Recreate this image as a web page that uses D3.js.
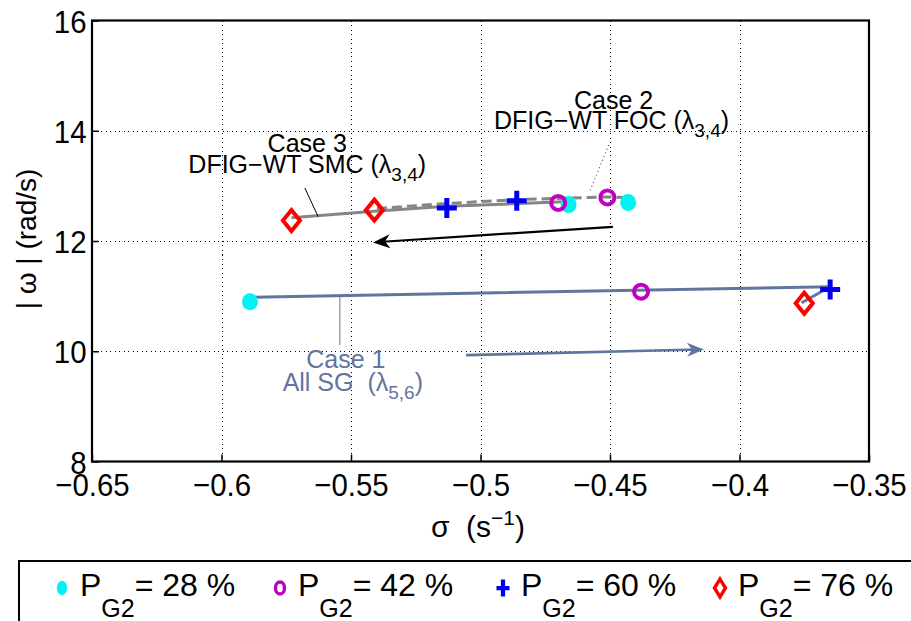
<!DOCTYPE html>
<html>
<head>
<meta charset="utf-8">
<script src="https://cdn.jsdelivr.net/npm/d3@7"></script>
<style>
  body { margin: 0; background: #fff; }
  text { font-family: "Liberation Sans", Arial, Helvetica, sans-serif; white-space: pre; }
</style>
</head>
<body>
<svg id="chart" width="911" height="621"></svg>
<script>
// ---- axis ticks ----
const xTicks = [-0.65, -0.6, -0.55, -0.5, -0.45, -0.4, -0.35];
const yTicks = [8, 10, 12, 14, 16];
const xTickLabels = ["\u22120.65", "\u22120.6", "\u22120.55", "\u22120.5", "\u22120.45", "\u22120.4", "\u22120.35"];

// ---- eigenvalue markers (sigma, |omega|) per P_G2 level ----
// order in each array: Case 1 (all SG), Case 3 (SMC), Case 2 (FOC)
const pg28 = [[-0.589, 10.90], [-0.466, 12.66], [-0.443, 12.70]];
const pg42 = [[-0.438, 11.08], [-0.470, 12.69], [-0.451, 12.79]];
const pg60 = [[-0.365, 11.12], [-0.513, 12.60], [-0.486, 12.73]];
const pg76 = [[-0.375, 10.87], [-0.573, 12.37], [-0.541, 12.56]];

// ---- eigenvalue loci ----
const case1Locus = [[-0.589, 10.98], [-0.365, 11.17], [-0.376, 10.88]];
const case3Locus = [[-0.573, 12.42], [-0.541, 12.54], [-0.513, 12.63], [-0.468, 12.71]];
const case2Locus = [[-0.540, 12.59], [-0.513, 12.68], [-0.486, 12.75], [-0.451, 12.80], [-0.443, 12.79]];

// ---- trend arrows (from, to) ----
const arrowCase23 = [[-0.4489, 12.258], [-0.5415, 11.975]];
const arrowCase1 = [[-0.5056, 9.929], [-0.4137, 10.033]];

const legendItems = [
  { label: "28", symbol: "dot" },
  { label: "42", symbol: "ring" },
  { label: "60", symbol: "plus" },
  { label: "76", symbol: "diamond" }
];

const W = 911, H = 621;
const margin = { left: 92, right: 42, top: 20.5, bottom: 159.5 };
const svg = d3.select("#chart");

const x = d3.scaleLinear().domain([-0.65, -0.35]).range([margin.left, W - margin.right]);
const y = d3.scaleLinear().domain([8, 16]).range([H - margin.bottom, margin.top]);

const CASE1 = "#62759e";
const GRAY = "#858585";

// grid
const grid = svg.append("g").attr("stroke", "#000").attr("stroke-width", 1)
  .attr("stroke-dasharray", "1,3.5").attr("shape-rendering", "crispEdges");
xTicks.slice(1, -1).forEach(v => grid.append("line")
  .attr("x1", Math.round(x(v)) + 0.5).attr("x2", Math.round(x(v)) + 0.5)
  .attr("y1", y(16)).attr("y2", y(8)));
yTicks.slice(1, -1).forEach(v => grid.append("line")
  .attr("x1", x(-0.65)).attr("x2", x(-0.35))
  .attr("y1", Math.round(y(v)) + 0.5).attr("y2", Math.round(y(v)) + 0.5));

// axes
const xAxis = d3.axisBottom(x).tickValues(xTicks).tickSize(-7).tickPadding(12)
  .tickFormat((d, i) => xTickLabels[i]);
const yAxis = d3.axisLeft(y).tickValues(yTicks).tickSize(-7).tickPadding(6)
  .tickFormat(d3.format("d"));

const gx = svg.append("g").attr("transform", `translate(0,${y(8)})`).call(xAxis);
const gy = svg.append("g").attr("transform", `translate(${x(-0.65)},0)`).call(yAxis);
[gx, gy].forEach(g => {
  g.select(".domain").remove();
  g.selectAll(".tick line").attr("stroke", "#000").attr("stroke-width", 1.5);
  g.selectAll(".tick text").attr("fill", "#000").style("font-size", "32px")
    .style("font-family", "'Liberation Sans', Arial, sans-serif")
    .attr("transform", "scale(0.92,1)");
});
gy.selectAll(".tick text").attr("dy", "0.36em");

// frame
svg.append("rect")
  .attr("x", x(-0.65)).attr("y", y(16))
  .attr("width", x(-0.35) - x(-0.65)).attr("height", y(8) - y(16))
  .attr("fill", "none").attr("stroke", "#000").attr("stroke-width", 2.2);

// axis titles
const xt = svg.append("text").attr("x", 478).attr("y", 537).attr("text-anchor", "middle")
  .style("font-size", "30px").attr("fill", "#000");
xt.append("tspan").text("\u03c3  (s");
xt.append("tspan").attr("dy", -12).style("font-size", "21px").text("\u22121");
xt.append("tspan").attr("dy", 12).text(")");

svg.append("text").attr("transform", "translate(36,239) rotate(-90)")
  .attr("text-anchor", "middle").style("font-size", "28px").attr("fill", "#000")
  .text("| \u03c9 | (rad/s)");

// loci
const line = d3.line().x(d => x(d[0])).y(d => y(d[1]));
svg.append("path").datum(case1Locus).attr("d", line)
  .attr("fill", "none").attr("stroke", CASE1).attr("stroke-width", 3);
svg.append("path").datum(case3Locus).attr("d", line)
  .attr("fill", "none").attr("stroke", GRAY).attr("stroke-width", 3);
svg.append("path").datum(case2Locus).attr("d", line)
  .attr("fill", "none").attr("stroke", GRAY).attr("stroke-width", 3)
  .attr("stroke-dasharray", "10,5");

// marker symbols; sx/sy scale width and height separately
function drawSymbol(g, type, cx, cy, sx, sy, sw) {
  sx = sx || 1; sy = sy || sx; sw = sw || 1;
  if (type === "dot") {
    g.append("ellipse").attr("cx", cx).attr("cy", cy).attr("rx", 8 * sx).attr("ry", 8.5 * sy)
      .attr("fill", "#00f2f2");
  } else if (type === "ring") {
    g.append("ellipse").attr("cx", cx).attr("cy", cy).attr("rx", 7 * sx).attr("ry", 7 * sy)
      .attr("fill", "none").attr("stroke", "#c000c0").attr("stroke-width", 4 * sw);
  } else if (type === "plus") {
    const a = 10 * sx, b = 10 * sy;
    g.append("path").attr("d", `M${cx - a},${cy}H${cx + a}M${cx},${cy - b}V${cy + b}`)
      .attr("stroke", "#0000f0").attr("stroke-width", 5 * sw).attr("fill", "none");
  } else {
    const hw = 8.5 * sx, hh = 10.5 * sy;
    g.append("path").attr("d", `M${cx},${cy - hh}L${cx + hw},${cy}L${cx},${cy + hh}L${cx - hw},${cy}Z`)
      .attr("stroke", "#ff0000").attr("stroke-width", 4 * sw).attr("fill", "none")
      .attr("stroke-linejoin", "miter");
  }
}

const marks = svg.append("g");
[[pg28, "dot"], [pg42, "ring"], [pg60, "plus"], [pg76, "diamond"]].forEach(([arr, t]) => {
  arr.forEach(p => drawSymbol(marks, t, x(p[0]), y(p[1])));
});

// arrows
function arrow(pts, color, width) {
  const [p0, p1] = pts;
  const x0 = x(p0[0]), y0 = y(p0[1]), x1 = x(p1[0]), y1 = y(p1[1]);
  const ang = Math.atan2(y1 - y0, x1 - x0);
  svg.append("line").attr("x1", x0).attr("y1", y0)
    .attr("x2", x1 - 6 * Math.cos(ang)).attr("y2", y1 - 6 * Math.sin(ang))
    .attr("stroke", color).attr("stroke-width", width);
  svg.append("path").attr("d", "M0,0L-17,-7L-12,0L-17,7Z")
    .attr("transform", `translate(${x1},${y1}) rotate(${ang * 180 / Math.PI})`)
    .attr("fill", color);
}
arrow(arrowCase23, "#000", 2.2);
arrow(arrowCase1, CASE1, 2.6);

// annotations
function caseLabel(cx, rows, lines, color) {
  lines.forEach((ln, i) => {
    const t = svg.append("text").attr("x", x(cx[i])).attr("y", y(rows[i]))
      .attr("text-anchor", "middle").style("font-size", "25px").attr("fill", color);
    ln.forEach(part => {
      if (part.sub) {
        t.append("tspan").attr("dy", 8).style("font-size", "19px").text(part.sub);
      } else if (part.after) {
        t.append("tspan").attr("dy", -8).text(part.after);
      } else {
        t.append("tspan").text(part.t);
      }
    });
  });
}
caseLabel([-0.4486, -0.4494], [14.40, 14.04], [
  [{ t: "Case 2" }],
  [{ t: "DFIG\u2212WT FOC (\u03bb" }, { sub: "3,4" }, { after: ")" }]
], "#000");
caseLabel([-0.5669, -0.5669], [13.61, 13.228], [
  [{ t: "Case 3" }],
  [{ t: "DFIG\u2212WT SMC (\u03bb" }, { sub: "3,4" }, { after: ")" }]
], "#000");
caseLabel([-0.5520, -0.5493], [9.69, 9.284], [
  [{ t: "Case 1" }],
  [{ t: "All SG  (\u03bb" }, { sub: "5,6" }, { after: ")" }]
], CASE1);

// leader lines from labels to loci
const leaders = [
  { from: [-0.5678, 12.961], to: [-0.5627, 12.441], color: "#000", dash: null, w: 1 },
  { from: [-0.4505, 13.741], to: [-0.4579, 12.889], color: "#555", dash: "1,3", w: 1.2 },
  { from: [-0.5543, 10.984], to: [-0.5543, 10.113], color: CASE1, dash: null, w: 1 }
];
leaders.forEach(l => svg.append("line")
  .attr("x1", x(l.from[0])).attr("y1", y(l.from[1]))
  .attr("x2", x(l.to[0])).attr("y2", y(l.to[1]))
  .attr("stroke", l.color).attr("stroke-width", l.w)
  .attr("stroke-dasharray", l.dash));

// legend
const lg = svg.append("g");
lg.append("rect").attr("x", 19).attr("y", 561).attr("width", 900).attr("height", 80)
  .attr("fill", "#fff").attr("stroke", "#000").attr("stroke-width", 2);
const itemX = [62, 280, 503, 720];
legendItems.forEach((it, i) => {
  drawSymbol(lg, it.symbol, itemX[i], 588, 0.65, 0.85, 0.85);
  const t = lg.append("text").attr("x", itemX[i] + 18).attr("y", 596)
    .style("font-size", "32px").attr("fill", "#000");
  t.append("tspan").text("P");
  t.append("tspan").attr("dy", 21).style("font-size", "25px").text("G2");
  t.append("tspan").attr("dy", -21).text("= " + it.label + " %");
});
</script>
</body>
</html>
